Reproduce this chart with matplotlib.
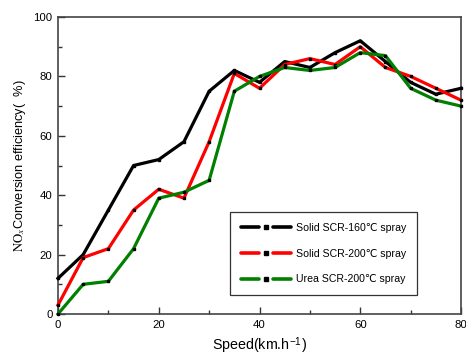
import matplotlib
matplotlib.use("Agg")
import matplotlib.pyplot as plt
from matplotlib.lines import Line2D
from matplotlib.legend_handler import HandlerBase
from matplotlib.ticker import MultipleLocator

plt.rcParams['font.family'] = ['Liberation Sans', 'DejaVu Sans']
plt.rcParams['mathtext.fontset'] = 'stix'

speed = [0, 5, 10, 15, 20, 25, 30, 35, 40, 45, 50, 55, 60, 65, 70, 75, 80]
solid_160 = [12, 20, 35, 50, 52, 58, 75, 82, 78, 85, 83, 88, 92, 85, 78, 74, 76]
solid_200 = [3, 19, 22, 35, 42, 39, 58, 81, 76, 84, 86, 84, 90, 83, 80, 76, 72]
urea_200 = [0, 10, 11, 22, 39, 41, 45, 75, 80, 83, 82, 83, 88, 87, 76, 72, 70]

labels = ['Solid SCR-160\u2103 spray', 'Solid SCR-200\u2103 spray', 'Urea SCR-200\u2103 spray']
colors = ['#000000', '#ff0000', '#008000']

fig = plt.figure(figsize=(4.66, 3.56), dpi=100)
ax = fig.add_axes([58/466, 1-314/356, 403/466, 297/356])

handles = []
for y, c, lab in zip([solid_160, solid_200, urea_200], colors, labels):
    ln, = ax.plot(speed, y, color=c, lw=2.3, marker='s', ms=2.0,
                  mfc='black', mec='black', label=lab, clip_on=False, zorder=3)
    handles.append(ln)

ax.set_xlim(0, 80)
ax.set_ylim(0, 100)
ax.xaxis.set_major_locator(MultipleLocator(20))
ax.xaxis.set_minor_locator(MultipleLocator(10))
ax.yaxis.set_major_locator(MultipleLocator(20))
ax.yaxis.set_minor_locator(MultipleLocator(10))
ax.tick_params(which='both', direction='in', top=False, right=False,
               color='#333333', width=1.0, labelsize=8.2, pad=4)
ax.tick_params(which='major', length=5)
ax.tick_params(which='minor', length=3)
for s in ax.spines.values():
    s.set_color('#444444')
    s.set_linewidth(1.2)

ax.set_xlabel('Speed(km.h$^{\\mathregular{-1}}$)', fontsize=10.3, labelpad=4)
ax.set_ylabel('$\\mathrm{NO}_x$Conversion efficiency(  %)', fontsize=9.2, labelpad=4)


class GapHandler(HandlerBase):
    def create_artists(self, legend, orig_handle, xdescent, ydescent,
                       width, height, fontsize, trans):
        y = height / 2 - ydescent
        x0 = -xdescent
        x1 = x0 + width
        mid = (x0 + x1) / 2
        gap = width * 0.14
        c = orig_handle.get_color()
        l1 = Line2D([x0, mid - gap], [y, y], color=c, lw=2.6, solid_capstyle='round')
        l2 = Line2D([mid + gap, x1], [y, y], color=c, lw=2.6, solid_capstyle='round')
        m = Line2D([mid], [y], marker='s', ms=2.2, mfc='black', mec='black', ls='none')
        for a in (l1, l2, m):
            a.set_transform(trans)
        return [l1, l2, m]


leg = ax.legend(handles=handles, handler_map={Line2D: GapHandler()},
                loc='upper left', bbox_to_anchor=(0.427, 0.343, 0.464, 0.0),
                mode='expand', borderaxespad=0, fontsize=7.6, frameon=True,
                fancybox=False, handlelength=4.8, handletextpad=0.4,
                labelspacing=1.5, borderpad=1.0)
leg.get_frame().set_edgecolor('black')
leg.get_frame().set_linewidth(0.9)

fig.savefig('out.png', dpi=100)
